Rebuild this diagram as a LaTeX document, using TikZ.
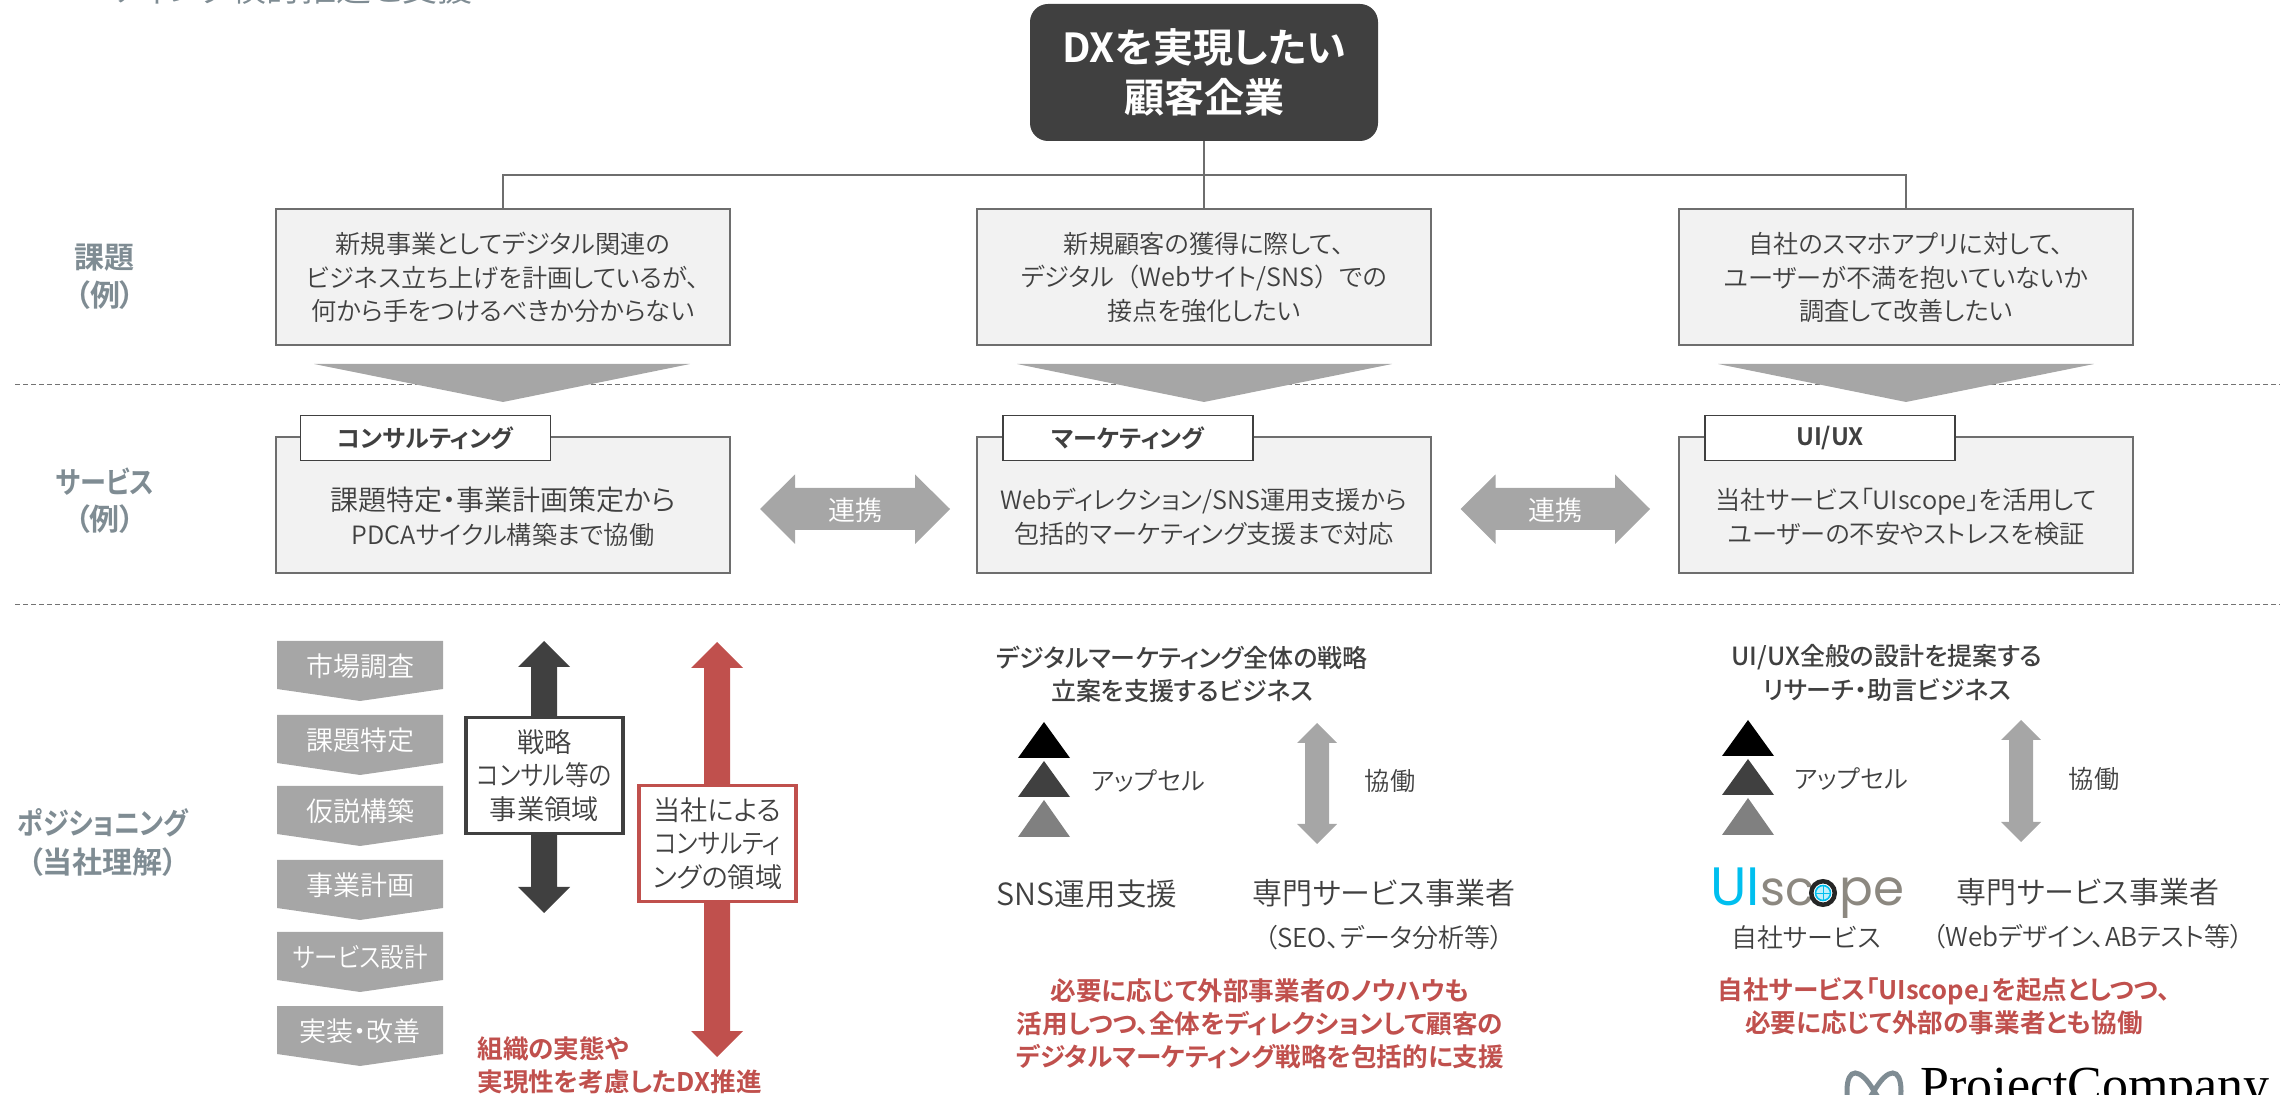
\documentclass[tikz,border=0pt]{standalone}
\usepackage{fontspec}
\setmainfont[RawFeature={+palt}, BoldFont={Noto Sans CJK JP Bold}]{Noto Sans CJK JP DemiLight}
\newfontfamily\medfont[RawFeature={+palt}]{Noto Sans CJK JP Medium}
\newfontfamily\fullwfont{Noto Sans CJK JP DemiLight}
\newfontfamily\nrwfont[FakeStretch=0.87, RawFeature={+palt}, BoldFont={Noto Sans CJK JP Bold}]{Noto Sans CJK JP DemiLight}
\newfontfamily\logofont{Poppins}
\newfontfamily\markfont{Liberation Serif}
\usetikzlibrary{calc}

\definecolor{ink}{HTML}{404040}
\definecolor{boxfill}{HTML}{F2F2F2}
\definecolor{boxline}{HTML}{6E6E6E}
\definecolor{flowgray}{HTML}{A6A6A6}
\definecolor{sidegray}{HTML}{7F8C93}
\definecolor{redmark}{HTML}{C0504D}
\definecolor{logocyan}{HTML}{00BFEF}
\definecolor{logogray}{HTML}{8C8880}

\newcommand{\fsz}[1]{\fontsize{#1}{#1}\selectfont}

\tikzset{
    needbox/.style={draw=boxline, fill=boxfill, line width=0.75pt, minimum width=227pt, minimum height=68pt, inner sep=0pt},
    tabbox/.style={draw=ink, fill=white, line width=0.6pt, minimum width=125pt, minimum height=22.7pt, inner sep=0pt, text=ink, font=\fsz{12}\bfseries},
    bodytext/.style={text=ink, align=center, inner sep=0pt, font=\fontsize{12.6}{16.8}\selectfont},
    sidetext/.style={text=sidegray, align=center, inner sep=0pt, font=\fontsize{15}{18.8}\selectfont\bfseries},
    redtext/.style={text=redmark, align=center, inner sep=0pt, font=\fontsize{12.8}{16.6}\selectfont\bfseries},
    headtext/.style={text=ink, align=center, inner sep=0pt, font=\fontsize{12.5}{16.8}\selectfont\medfont},
    steptext/.style={text=white, inner sep=0pt, font=\fsz{13.5}},
    scopebox/.style={fill=white, line width=1.75pt, minimum width=78.5pt, minimum height=58pt, inner sep=0pt, text=ink, align=center, font=\fontsize{13.6}{16.7}\selectfont},
    link/.style={draw=boxline, line width=0.75pt},
    sepline/.style={draw=black!55, line width=0.5pt, dash pattern=on 2.5pt off 1.5pt}
}

% down chevron: name, top edge, text
\newcommand{\stepchev}[3]{
    \fill[flowgray] (277,#2) -- (443,#2) -- (443,{#2+48}) -- (360,{#2+60}) -- (277,{#2+48}) -- cycle;
    \node[steptext] (#1) at (360,{#2+25}) {#3};
}
% vertical double arrow: colour, x, top, bottom, head length, head half width, shaft half width
\newcommand{\vtwohead}[7]{
    \fill[#1] (#2,#3) -- ({#2+#6},{#3+#5}) -- ({#2+#7},{#3+#5}) -- ({#2+#7},{#4-#5}) -- ({#2+#6},{#4-#5})
        -- (#2,#4) -- ({#2-#6},{#4-#5}) -- ({#2-#7},{#4-#5}) -- ({#2-#7},{#3+#5}) -- ({#2-#6},{#3+#5}) -- cycle;
}
% horizontal double arrow: left, right
\newcommand{\htwohead}[2]{
    \fill[flowgray] (#1,509) -- ({#1+35},474.5) -- ({#1+35},488) -- ({#2-35},488) -- ({#2-35},474.5)
        -- (#2,509) -- ({#2-35},544) -- ({#2-35},530) -- ({#1+35},530) -- ({#1+35},544) -- cycle;
}
% upsell triangles: centre x, first apex
\newcommand{\upsell}[2]{
    \fill[black] (#1,#2) -- ({#1+26},{#2+36}) -- ({#1-26},{#2+36}) -- cycle;
    \fill[ink] (#1,{#2+39}) -- ({#1+26},{#2+75}) -- ({#1-26},{#2+75}) -- cycle;
    \fill[black!50] (#1,{#2+78}) -- ({#1+26},{#2+115}) -- ({#1-26},{#2+115}) -- cycle;
}

\begin{document}
\begin{tikzpicture}[x=0.5pt, y=-0.5pt]
    \useasboundingbox (0,0) rectangle (2293,1095);
    \clip (0,0) rectangle (2293,1095);

    % Cut-off heading at the top edge
    \node[text=sidegray, anchor=base west, inner sep=0pt, font=\fsz{17.5}] (title) at (112,2) {ティング検討推進と支援};

    % Separators
    \coordinate (sepAL) at (15,385);
    \coordinate (sepAR) at (2280,385);
    \coordinate (sepBL) at (15,605);
    \coordinate (sepBR) at (2280,605);
    \draw[sepline] (sepAL) -- (sepAR);
    \draw[sepline] (sepBL) -- (sepBR);

    % Client
    \node[fill=ink, rounded corners=9pt, minimum width=174pt, minimum height=68.5pt, inner sep=0pt, text=white, align=center, font=\fontsize{20}{24.8}\selectfont\bfseries] (client) at (1204,72.5) {DXを実現したい\\顧客企業};

    % Issue row
    \node[needbox] (need1) at (503,277) {};
    \node[needbox] (need2) at (1204,277) {};
    \node[needbox] (need3) at (1906,277) {};
    \node[bodytext] (needtext1) at (503,277.5) {新規事業としてデジタル関連の\\ビジネス立ち上げを計画しているが、\\何から手をつけるべきか分からない};
    \node[bodytext] (needtext2) at (1204,277.5) {新規顧客の獲得に際して、\\デジタル{\fullwfont （}Webサイト/SNS{\fullwfont ）}での\\接点を強化したい};
    \node[bodytext] (needtext3) at (1906,277.5) {自社のスマホアプリに対して、\\ユーザーが不満を抱いていないか\\調査して改善したい};

    % Connectors from the client
    \coordinate (bus) at (1204,175);
    \draw[link] (client.south) -- (need2.north);
    \draw[link] (need1.north) |- (bus) -| (need3.north);

    % Wide arrows between the rows
    \fill[flowgray] (314,364) -- (690,364) -- (503,402) -- cycle;
    \fill[flowgray] (1017,364) -- (1392,364) -- (1204,402) -- cycle;
    \fill[flowgray] (1718,364) -- (2094,364) -- (1906,402) -- cycle;

    % Service row
    \node[needbox] (svc1) at (503,505) {};
    \node[needbox] (svc2) at (1204,505) {};
    \node[needbox] (svc3) at (1906,505) {};
    \node[tabbox] (tab1) at (425.5,438) {コンサルティング};
    \node[tabbox] (tab2) at (1128,438) {マーケティング};
    \node[tabbox] (tab3) at (1830,438) {UI/UX};
    \node[bodytext] (svctext1) at (503,517) {{\fsz{14}課題特定・事業計画策定から}\\PDCAサイクル構築まで協働};
    \node[bodytext] (svctext2) at (1204,517) {Webディレクション/SNS運用支援から\\包括的マーケティング支援まで対応};
    \node[bodytext] (svctext3) at (1906,517) {当社サービス「UIscope」を活用して\\ユーザーの不安やストレスを検証};

    % Between the services
    \htwohead{760}{950}
    \htwohead{1460.5}{1650}
    \node[steptext] (tie1) at (855,510) {連携};
    \node[steptext] (tie2) at (1555.5,510) {連携};

    % Side labels
    \node[sidetext] (side1) at (105,276.5) {課題\\（例）};
    \node[sidetext] (side2) at (105,500.5) {{\nrwfont サービス}\\（例）};
    \node[sidetext, font=\fontsize{15}{19.5}\selectfont\bfseries] (side3) at (103,842.5) {{\nrwfont ポジショニング}\\（当社理解）};

    % Process steps
    \stepchev{step1}{641}{市場調査}
    \stepchev{step2}{715}{課題特定}
    \stepchev{step3}{786}{仮説構築}
    \stepchev{step4}{860}{事業計画}
    \stepchev{step5}{932}{{\nrwfont サービス設計}}
    \stepchev{step6}{1006}{実装・改善}

    % Scope arrows
    \vtwohead{ink}{544}{641}{913}{26}{26}{13}
    \vtwohead{redmark}{717}{642}{1057}{26}{26}{13}
    \node[scopebox, draw=ink] (scopeA) at (544.25,775.5) {戦略\\{\nrwfont コンサル等の}\\事業領域};
    \node[scopebox, draw=redmark] (scopeB) at (717.5,843.5) {当社による\\{\nrwfont コンサルティ}\\ングの領域};
    \node[redtext, align=left, anchor=west] (scopeNote) at (477,1065) {組織の実態や\\実現性を考慮したDX推進};

    % Marketing column
    \node[headtext] (mktHead) at (1182,674.5) {デジタルマーケティング全体の戦略\\立案を支援するビジネス};
    \upsell{1044}{722}
    \node[bodytext] (mktUp) at (1148,781) {アップセル};
    \vtwohead{flowgray}{1317}{723}{844}{20}{20}{12}
    \node[bodytext] (mktCo) at (1390,781) {協働};
    \node[bodytext, font=\fsz{15.3}] (mktSns) at (1087,894) {SNS運用支援};
    \node[bodytext, font=\fsz{15}] (mktPro) at (1384,893) {専門サービス事業者};
    \node[bodytext, font=\fsz{13}] (mktEx) at (1384,938) {（SEO、データ分析等）};
    \node[redtext] (mktNote) at (1260,1023.5) {必要に応じて外部事業者のノウハウも\\活用しつつ、全体をディレクションして顧客の\\デジタルマーケティング戦略を包括的に支援};

    % UX column
    \node[headtext] (uxHead) at (1887,673) {UI/UX全般の設計を提案する\\リサーチ・助言ビジネス};
    \upsell{1748}{720}
    \node[bodytext] (uxUp) at (1851,779) {アップセル};
    \vtwohead{flowgray}{2021}{720}{842}{20}{20}{12}
    \node[bodytext] (uxCo) at (2094,779) {協働};
    \node[text=logocyan, anchor=base west, inner sep=0pt, font=\logofont\fsz{27}] (logoUI) at (1710,906) {UI};
    \node[text=logogray, anchor=base west, inner sep=0pt, font=\logofont\fsz{24}] (logoSc) at (1760,906) {sc};
    \node[draw=black!85, line width=2.25pt, fill=white, circle, minimum size=11.75pt, inner sep=0pt] (logoRing) at (1823,893) {};
    \node[draw=logocyan, fill=logocyan!25, line width=0.8pt, circle, minimum size=7.5pt, inner sep=0pt] (logoEye) at (1823,893) {};
    \draw[logocyan, line width=0.4pt] (logoEye.north) -- (logoEye.south);
    \draw[logocyan, line width=0.4pt] (logoEye.west) -- (logoEye.east);
    \node[text=logogray, anchor=base west, inner sep=0pt, font=\logofont\fsz{25}] (logoPe) at (1839,906) {pe};
    \node[bodytext, font=\fsz{13}] (uxOwn) at (1806,938) {自社サービス};
    \node[bodytext, font=\fsz{15}] (uxPro) at (2088,892) {専門サービス事業者};
    \node[bodytext, font=\fsz{13}] (uxEx) at (2088,937) {（Webデザイン、ABテスト等）};
    \node[redtext] (uxNote) at (1944,1006.5) {自社サービス「UIscope」を起点としつつ、\\必要に応じて外部の事業者とも協働};

    % Company mark
    \draw[sidegray, line width=2.5pt] (1874,1091) .. controls (1860,1067) and (1847,1067) .. (1847,1091)
        .. controls (1847,1115) and (1860,1115) .. (1874,1091)
        .. controls (1888,1067) and (1901,1067) .. (1901,1091)
        .. controls (1901,1115) and (1888,1115) .. (1874,1091);
    \node[text=black, anchor=base west, inner sep=0pt, font=\markfont\fsz{26}] (mark) at (1920,1102) {ProjectCompany};
\end{tikzpicture}
\end{document}
